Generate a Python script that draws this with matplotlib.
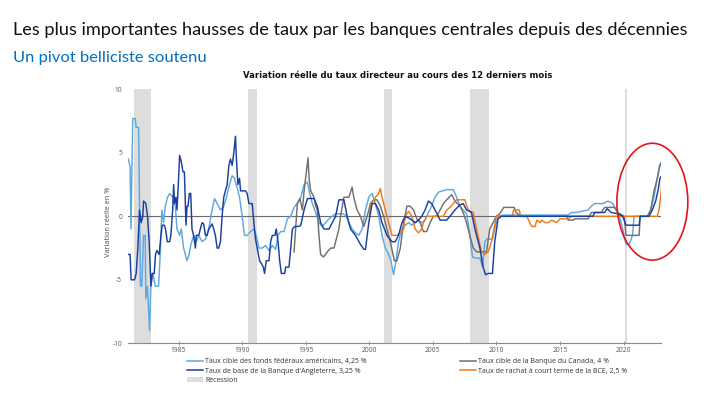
import matplotlib
matplotlib.use('Agg')
import matplotlib.pyplot as plt
from matplotlib.patches import Ellipse, Patch
from matplotlib.lines import Line2D

title = "Les plus importantes hausses de taux par les banques centrales depuis des décennies"
subtitle = "Un pivot belliciste soutenu"
chart_title = "Variation réelle du taux directeur au cours des 12 derniers mois"
ylabel = "Variation réelle en %"

labels = ["Taux cible des fonds fédéraux américains, 4,25 %",
          "Taux de base de la Banque d'Angleterre, 3,25 %",
          "Récession",
          "Taux cible de la Banque du Canada, 4 %",
          "Taux de rachat à court terme de la BCE, 2,5 %"]

xticks = [1985, 1990, 1995, 2000, 2005, 2010, 2015, 2020]
yticks = [-10, -5, 0, 5, 10]

rec_start = [1981.50, 1990.47, 2001.18, 2007.90, 2020.10]
rec_end = [1982.82, 1991.13, 2001.81, 2009.40, 2020.28]

us_years = [1981.05, 1981.18, 1981.25, 1981.39, 1981.58, 1981.66, 1981.85, 1982.00, 1982.10,
            1982.24, 1982.37, 1982.42, 1982.55, 1982.71, 1982.82, 1982.97, 1983.16, 1983.42,
            1983.55, 1983.68, 1983.82, 1983.95, 1984.13, 1984.29, 1984.55, 1984.74, 1984.87,
            1985.08, 1985.21, 1985.39, 1985.66, 1985.82, 1985.97, 1986.18, 1986.39, 1986.58,
            1986.84, 1987.11, 1987.37, 1987.63, 1987.82, 1988.03, 1988.29, 1988.55, 1988.76,
            1988.95, 1989.21, 1989.39, 1989.61, 1989.79, 1990.00, 1990.18, 1990.39, 1990.66,
            1990.92, 1991.11, 1991.32, 1991.58, 1991.84, 1992.11, 1992.37, 1992.63, 1992.82,
            1993.03, 1993.29, 1993.55, 1993.82, 1994.08, 1994.47, 1994.61, 1994.87, 1995.13,
            1995.26, 1995.52, 1995.78, 1996.04, 1996.30, 1996.57, 1996.83, 1997.09, 1997.35,
            1997.87, 1998.13, 1998.39, 1998.65, 1998.91, 1999.17, 1999.44, 1999.70, 1999.96,
            2000.22, 2000.48, 2000.74, 2001.00, 2001.26, 2001.52, 2001.70, 2001.91, 2002.10,
            2002.30, 2002.57, 2002.83, 2003.09, 2003.35, 2003.61, 2003.87, 2004.13, 2004.39,
            2004.65, 2004.91, 2005.17, 2005.44, 2006.09, 2006.61, 2006.87, 2007.13, 2007.39,
            2007.65, 2007.78, 2007.91, 2008.12, 2008.44, 2008.70, 2008.91, 2009.09, 2009.27,
            2009.69, 2009.87, 2010.13, 2010.52, 2015.65, 2015.91, 2016.30, 2017.21, 2017.47,
            2017.73, 2018.38, 2018.77, 2019.16, 2019.42, 2019.68, 2019.94, 2020.19, 2020.45,
            2020.71, 2020.84, 2021.88, 2022.14, 2022.40, 2022.66, 2022.92, 2023.00]
us_values = [4.5, 3.9, -1.0, 7.7, 7.7, 7.0, 7.0, -5.5, -5.5,
             -1.5, -1.5, -6.5, -5.5, -9.0, -5.5, -4.5, -5.5, -5.5,
             -3.0, 0.5, -0.5, 0.8, 1.5, 1.8, 1.5, 0.8, -1.0,
             -1.5, -1.0, -2.5, -3.5, -3.0, -2.2, -1.5, -2.0, -1.5,
             -2.0, -1.8, -1.0, 0.5, 1.4, 1.0, 0.5, 0.8, 1.5,
             2.3, 3.2, 3.0, 2.2, 1.5, 0.0, -1.5, -1.5, -1.2,
             -1.0, -1.5, -2.5, -2.5, -2.3, -2.7, -2.3, -2.6, -1.5,
             -1.2, -1.2, -0.2, 0.0, 0.7, 1.2, 1.5, 2.5, 2.7,
             2.0, 1.0, 0.3, -0.5, -0.8, -0.5, -0.2, 0.0, 0.2,
             0.2, 0.1, -0.5, -1.0, -1.3, -1.5, -1.0, 0.5, 1.5,
             1.8, 1.0, 0.0, -1.5, -2.5, -3.0, -3.5, -4.6, -3.5,
             -2.0, -1.0, -0.7, -0.5, -0.7, -0.5, -0.3, -0.5, -0.3,
             0.3, 0.8, 1.5, 1.9, 2.1, 2.1, 1.5, 0.8, 0.5,
             0.2, -0.5, -1.5, -3.2, -3.3, -3.3, -4.0, -2.0, -1.8,
             -1.8, -1.0, 0.0, 0.1, 0.1, 0.3, 0.3, 0.5, 0.8,
             1.0, 1.0, 1.2, 1.0, 0.5, 0.0, -1.0, -2.2, -2.2,
             -1.5, 0.0, 0.0, 0.5, 1.5, 3.0, 4.2, 4.3]

uk_years = [1981.05, 1981.18, 1981.26, 1981.53, 1981.66, 1981.79, 1981.92, 1982.05, 1982.18,
            1982.24, 1982.42, 1982.55, 1982.68, 1982.82, 1982.92, 1983.08, 1983.18, 1983.29,
            1983.47, 1983.61, 1983.71, 1983.87, 1983.97, 1984.11, 1984.29, 1984.39, 1984.53,
            1984.61, 1984.68, 1984.79, 1984.87, 1984.95, 1985.08, 1985.21, 1985.34, 1985.45,
            1985.58, 1985.66, 1985.74, 1985.84, 1985.95, 1986.05, 1986.18, 1986.32, 1986.39,
            1986.58, 1986.71, 1986.84, 1986.97, 1987.11, 1987.24, 1987.37, 1987.50, 1987.63,
            1987.76, 1987.89, 1988.03, 1988.16, 1988.29, 1988.42, 1988.55, 1988.68, 1988.82,
            1988.95, 1989.08, 1989.21, 1989.34, 1989.47, 1989.55, 1989.66, 1989.79, 1989.87,
            1990.26, 1990.39, 1990.53, 1990.79, 1990.92, 1991.05, 1991.18, 1991.37, 1991.50,
            1991.66, 1991.76, 1991.89, 1992.11, 1992.24, 1992.37, 1992.58, 1992.68, 1992.82,
            1992.95, 1993.08, 1993.34, 1993.42, 1993.68, 1993.82, 1993.95, 1994.13, 1994.47,
            1994.61, 1994.87, 1995.13, 1995.65, 1995.91, 1996.17, 1996.43, 1996.83, 1997.09,
            1997.35, 1997.61, 1998.00, 1998.26, 1998.52, 1998.91, 1999.30, 1999.57, 1999.70,
            1999.96, 2000.22, 2000.48, 2000.74, 2001.00, 2001.39, 2001.78, 2002.04, 2002.30,
            2002.57, 2002.83, 2003.22, 2003.61, 2003.87, 2004.13, 2004.39, 2004.65, 2004.91,
            2005.17, 2005.57, 2006.09, 2006.35, 2006.74, 2007.13, 2007.39, 2007.65, 2008.04,
            2008.31, 2008.70, 2008.96, 2009.14, 2009.35, 2009.69, 2009.87, 2010.13, 2010.39,
            2017.60, 2017.73, 2018.51, 2018.71, 2019.03, 2019.55, 2019.94, 2020.19, 2021.23,
            2021.31, 2022.01, 2022.27, 2022.53, 2022.71, 2022.87, 2023.00]
uk_values = [-3.0, -3.0, -5.0, -5.0, -4.5, -2.5, 0.5, -0.5, 0.0,
             1.2, 1.0, 0.0, -2.0, -5.5, -4.5, -4.5, -3.0, -2.7,
             -3.0, -1.5, -0.7, -0.7, -1.0, -2.0, -2.0, -1.5, 0.5,
             2.5, 1.0, 1.5, 0.5, 2.0, 4.8, 4.3, 3.5, 3.5,
             -0.7, 0.8, 0.8, 1.8, 1.8, -1.0, -1.5, -2.5, -1.5,
             -1.5, -1.0, -0.5, -0.6, -1.5, -1.5, -1.0, -0.8, -0.6,
             -1.0, -1.5, -2.5, -2.5, -2.0, 0.0, 1.5, 2.0, 2.5,
             4.0, 4.5, 4.0, 5.0, 6.3, 4.5, 2.5, 3.0, 2.0,
             2.0, 1.8, 1.0, 1.0, -0.5, -1.8, -2.5, -3.5, -3.7,
             -4.0, -4.5, -3.5, -3.5, -2.0, -1.5, -1.5, -1.0, -2.0,
             -3.5, -4.5, -4.5, -4.0, -4.0, -2.5, -1.0, -0.8, -0.8,
             -0.7, 0.5, 1.4, 1.4, 0.8, -0.5, -1.0, -1.0, -0.5,
             0.0, 1.3, 1.3, 0.0, -1.0, -1.5, -2.2, -2.6, -2.6,
             -0.5, 1.0, 1.0, 0.5, -0.5, -1.5, -2.0, -2.0, -1.5,
             -0.5, 0.0, -0.2, -0.5, -0.3, 0.0, 0.5, 1.2, 1.0,
             0.5, -0.3, -0.3, 0.0, 0.5, 0.9, 1.0, 0.5, 0.3,
             -1.0, -2.5, -4.0, -4.6, -4.5, -4.5, -2.0, -0.2, 0.0,
             0.0, 0.3, 0.3, 0.6, 0.3, 0.2, 0.0, -0.7, -0.7,
             0.0, 0.0, 0.5, 1.2, 2.0, 3.0, 3.2]

ca_years = [1994.08, 1994.34, 1994.53, 1994.74, 1994.87, 1995.18, 1995.26, 1995.39, 1995.65,
            1995.78, 1995.91, 1996.04, 1996.17, 1996.38, 1996.57, 1996.70, 1996.96, 1997.22,
            1997.35, 1997.61, 1997.74, 1998.00, 1998.39, 1998.65, 1998.78, 1999.04, 1999.30,
            1999.57, 1999.83, 2000.09, 2000.35, 2000.61, 2000.87, 2001.13, 2001.39, 2001.65,
            2001.97, 2002.17, 2002.44, 2002.70, 2002.96, 2003.22, 2003.48, 2003.74, 2004.00,
            2004.26, 2004.52, 2004.78, 2005.04, 2005.31, 2005.57, 2005.83, 2006.09, 2006.48,
            2006.74, 2007.13, 2007.39, 2007.65, 2007.91, 2008.18, 2008.44, 2009.22, 2009.48,
            2009.74, 2010.00, 2010.26, 2010.58, 2011.40, 2011.55, 2011.80, 2012.05, 2015.52,
            2015.65, 2016.04, 2016.17, 2017.21, 2017.47, 2018.25, 2018.51, 2019.29, 2019.55,
            2020.06, 2020.19, 2021.23, 2021.31, 2021.88, 2022.14, 2022.40, 2022.66, 2022.84,
            2023.00]
ca_values = [-2.8, 1.0, 1.4, 0.5, 2.0, 4.6, 3.0, 2.0, 1.5,
             0.8, 0.5, -1.5, -3.0, -3.2, -3.0, -2.8, -2.5, -2.5,
             -2.0, -1.0, 0.0, 1.5, 1.5, 2.3, 1.5, 0.5, 0.0,
             -0.8, 0.0, 1.0, 1.3, 1.3, 0.8, 0.0, -1.0, -2.0,
             -3.5, -3.5, -2.5, -0.5, 0.8, 0.8, 0.5, -0.2, -0.5,
             -1.2, -1.2, -0.5, 0.0, 0.0, 0.5, 1.0, 1.3, 1.7,
             1.2, 0.8, 0.3, -0.5, -1.5, -2.5, -2.8, -2.8, -1.0,
             -0.5, 0.0, 0.2, 0.7, 0.7, 0.3, 0.1, 0.0, 0.0,
             -0.3, -0.3, -0.2, -0.2, 0.3, 0.3, 0.7, 0.7, 0.3,
             0.0, -1.5, -1.5, 0.0, 0.0, 0.5, 2.0, 3.0, 4.0,
             4.2]

ecb_years = [2000.01, 2000.09, 2000.48, 2000.74, 2000.87, 2001.00, 2001.26, 2001.52, 2001.78,
             2002.17, 2002.44, 2002.70, 2002.83, 2003.09, 2003.35, 2003.61, 2003.87, 2004.13,
             2004.26, 2004.52, 2005.83, 2006.09, 2006.35, 2006.61, 2006.87, 2007.52, 2007.78,
             2008.18, 2008.44, 2008.83, 2009.09, 2009.35, 2009.61, 2010.00, 2011.25, 2011.35,
             2011.80, 2011.90, 2012.40, 2012.53, 2012.79, 2013.05, 2013.18, 2013.44, 2013.57,
             2013.83, 2014.09, 2014.35, 2014.74, 2015.00, 2015.65, 2015.91, 2022.66, 2022.79,
             2022.92, 2023.00]
ecb_values = [0.0, 0.8, 1.5, 1.8, 2.2, 1.5, 0.5, -0.5, -1.5,
              -1.5, -1.3, -1.0, 0.0, 0.4, 0.0, -1.0, -1.3, -1.0,
              -0.5, 0.0, 0.0, 0.5, 0.7, 1.0, 1.3, 1.3, 0.5,
              0.3, -1.0, -2.8, -3.0, -2.8, -2.0, 0.0, 0.0, 0.5,
              0.5, 0.0, 0.0, -0.3, -0.8, -0.8, -0.3, -0.5, -0.3,
              -0.5, -0.5, -0.3, -0.5, -0.2, -0.2, 0.0, 0.0, 0.5,
              1.5, 2.5]

C_US = '#5EA8E0'
C_UK = '#1A3F9E'
C_CA = '#707070'
C_ECB = '#EC7A1C'
C_REC = '#DDDDDD'

W, H = 720, 400
fig = plt.figure(figsize=(7.2, 4.0), dpi=100)
fig.patch.set_facecolor('white')

ax = fig.add_axes([128.3 / W, 1 - 343.3 / H, (661 - 128.3) / W, (343.3 - 89.3) / H])
ax.set_xlim(1981.04, 2022.95)
ax.set_ylim(-10, 10)

for s, e in zip(rec_start, rec_end):
    ax.axvspan(s, e, color=C_REC, lw=0, zorder=0)
ax.axhline(0, color='#6a6a6a', lw=0.8, zorder=1)

lw = 1.05
ax.plot(us_years, us_values, color=C_US, lw=lw, zorder=2)
ax.plot(ca_years, ca_values, color=C_CA, lw=lw, zorder=3)
ax.plot(ecb_years, ecb_values, color=C_ECB, lw=lw, zorder=4)
ax.plot(uk_years, uk_values, color=C_UK, lw=lw, zorder=5)

ell = Ellipse((2022.27, 1.15), width=5.58, height=9.2, fill=False,
              edgecolor='#E3141B', lw=1.2, clip_on=False, zorder=10)
ax.add_patch(ell)

for sp in ['top', 'right', 'left']:
    ax.spines[sp].set_visible(False)
ax.spines['bottom'].set_color('#8a8a8a')
ax.spines['bottom'].set_linewidth(0.8)
ax.set_xticks(xticks)
ax.set_xticklabels([str(v) for v in xticks])
ax.set_yticks(yticks)
ax.set_yticklabels([str(v) for v in yticks])
ax.tick_params(axis='x', direction='inout', length=3, width=0.6, color='#8a8a8a',
               labelsize=4.8, labelcolor='#555555', pad=1.5)
ax.tick_params(axis='y', length=0, labelsize=4.8, labelcolor='#555555', pad=4.5)
for t in ax.get_xticklabels() + ax.get_yticklabels():
    t.set_fontfamily('Open Sans')

fig.text(109 / W, 1 - 222 / H, ylabel, rotation=90, ha='center', va='center',
         fontsize=5.2, color='#444444', family='Open Sans')

fig.canvas.draw()
renderer = fig.canvas.get_renderer()


def fit(t, target):
    w = t.get_window_extent(renderer).width
    t.set_fontsize(t.get_fontsize() * target / w)


t1 = fig.text(13 / W, 1 - 30 / H, title, ha='left', va='center', fontsize=13,
              family='Lato', color='#111111')
fit(t1, 674)
t2 = fig.text(13 / W, 1 - 58 / H, subtitle, ha='left', va='center', fontsize=11,
              family='Lato', color='#0070C0')
fit(t2, 192)
t3 = fig.text(398 / W, 1 - 75 / H, chart_title, ha='center', va='center', fontsize=7,
              family=['Liberation Sans Narrow', 'DejaVu Sans'], weight='bold', color='#111111')
fit(t3, 311)

h_us = Line2D([], [], color=C_US, lw=1.1)
h_uk = Line2D([], [], color=C_UK, lw=1.1)
h_rec = Patch(facecolor=C_REC, edgecolor='none')
h_ca = Line2D([], [], color=C_CA, lw=1.1)
h_ecb = Line2D([], [], color=C_ECB, lw=1.1)

leg_kw = dict(frameon=False, handlelength=2.3, handleheight=0.9,
              handletextpad=0.3, labelspacing=0.3, borderpad=0, borderaxespad=0,
              prop={'family': 'Open Sans', 'size': 5.0})
l1 = fig.legend([h_us, h_uk, h_rec], labels[0:3], loc='upper left',
                bbox_to_anchor=(187 / W, 1 - 358 / H), **leg_kw)
l2 = fig.legend([h_ca, h_ecb], labels[3:5], loc='upper left',
                bbox_to_anchor=(460 / W, 1 - 358 / H), **leg_kw)
for l in (l1, l2):
    for t in l.get_texts():
        t.set_color('#333333')

fig.savefig('out.png', dpi=100, facecolor='white')
